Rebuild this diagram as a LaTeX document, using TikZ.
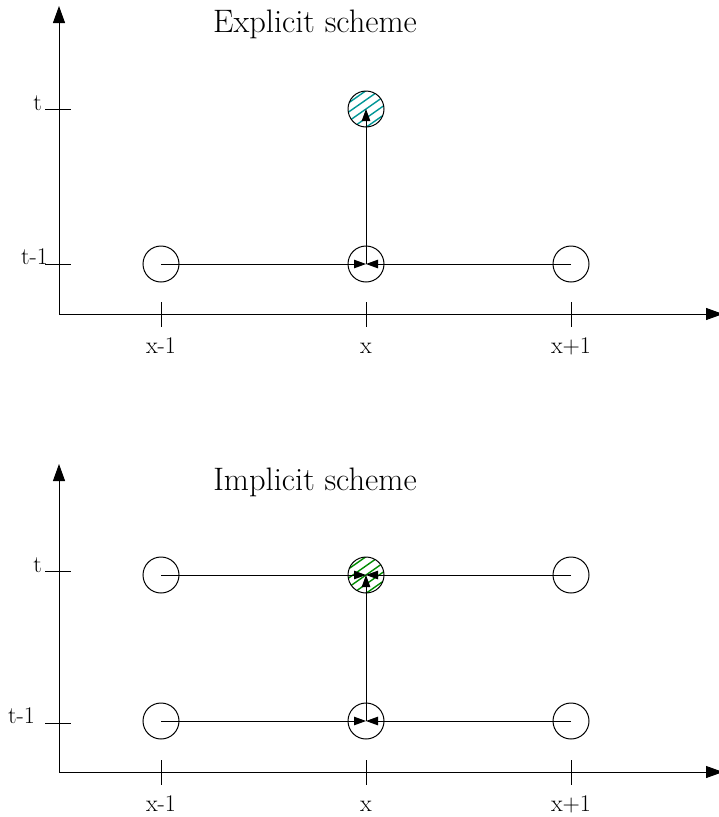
\documentclass[tikz,border=0pt]{standalone}
\usetikzlibrary{arrows.meta}
\definecolor{hatchteal}{RGB}{0,150,150}
\definecolor{hatchgreen}{RGB}{0,140,0}
\begin{document}
\begin{tikzpicture}[x=1pt,y=-1pt,
  gridpt/.style={circle,draw,line width=1pt,minimum size=36pt,inner sep=0pt},
  conn/.style={line width=0.9pt,-{Triangle[length=12pt,width=8.5pt]}},
  axis/.style={line width=1pt,-{Triangle[length=17pt,width=12pt]}},
  tick/.style={line width=1pt},
  ticklab/.style={font=\fontsize{24}{28}\selectfont,inner sep=0pt},
  titlelab/.style={font=\fontsize{32.5}{38}\selectfont,inner sep=0pt}]
\useasboundingbox (0,0) rectangle (719,817);
\newcommand{\hatch}[3]{%
  \begin{scope}
    \clip (#1,#2) circle (18pt);
    \foreach \k in {-4,...,4}{
      \draw[#3,line width=1.4pt,shift={(#1,#2)},rotate=35] (-30,\k*7.5) -- (30,\k*7.5);
    }
  \end{scope}}

% ---------- Explicit scheme ----------
\coordinate (o1) at (59,314);
\coordinate (ye1) at (59,6);
\coordinate (xe1) at (723,314);
\draw[axis] (o1) -- (ye1);
\draw[axis] (o1) -- (xe1);
\node[titlelab,anchor=base] (title1) at (315,32) {Explicit scheme};
% ticks
\draw[tick] (45,109) -- (71,109);
\draw[tick] (45,264) -- (71,264);
\node[ticklab,anchor=base east] (tl1) at (42,110) {t};
\node[ticklab,anchor=base east] (tml1) at (48,264) {t-1};
\foreach \xx/\lab/\nm in {161/x-1/a,366/x/b,571/x+1/c}{
  \draw[tick] (\xx,302) -- (\xx,327);
  \node[ticklab,anchor=base] (\nm lab1) at (\xx,353) {\lab};
}
% points
\hatch{366}{109}{hatchteal}
\node[gridpt] (e11) at (161,264) {};
\node[gridpt] (e21) at (366,264) {};
\node[gridpt] (e31) at (571,264) {};
\node[gridpt] (e22) at (366,109) {};
\draw[conn] (e11.center) -- (e21.center);
\draw[conn] (e31.center) -- (e21.center);
\draw[conn] (e21.center) -- (e22.center);

% ---------- Implicit scheme ----------
\coordinate (o2) at (59,772);
\coordinate (ye2) at (59,464);
\coordinate (xe2) at (723,772);
\draw[axis] (o2) -- (ye2);
\draw[axis] (o2) -- (xe2);
\node[titlelab,anchor=base] (title2) at (315,490) {Implicit scheme};
\draw[tick] (45,571) -- (71,571);
\draw[tick] (45,723) -- (71,723);
\node[ticklab,anchor=base east] (tl2) at (42,572) {t};
\node[ticklab,anchor=base east] (tml2) at (35,723) {t-1};
\foreach \xx/\lab/\nm in {161/x-1/a,366/x/b,571/x+1/c}{
  \draw[tick] (\xx,760) -- (\xx,785);
  \node[ticklab,anchor=base] (\nm lab2) at (\xx,811) {\lab};
}
\hatch{366}{575}{hatchgreen}
\node[gridpt] (i11) at (161,721) {};
\node[gridpt] (i21) at (366,721) {};
\node[gridpt] (i31) at (571,721) {};
\node[gridpt] (i12) at (161,575) {};
\node[gridpt] (i22) at (366,575) {};
\node[gridpt] (i32) at (571,575) {};
\draw[conn] (i11.center) -- (i21.center);
\draw[conn] (i31.center) -- (i21.center);
\draw[conn] (i12.center) -- (i22.center);
\draw[conn] (i32.center) -- (i22.center);
\draw[conn] (i21.center) -- (i22.center);
\end{tikzpicture}
\end{document}
